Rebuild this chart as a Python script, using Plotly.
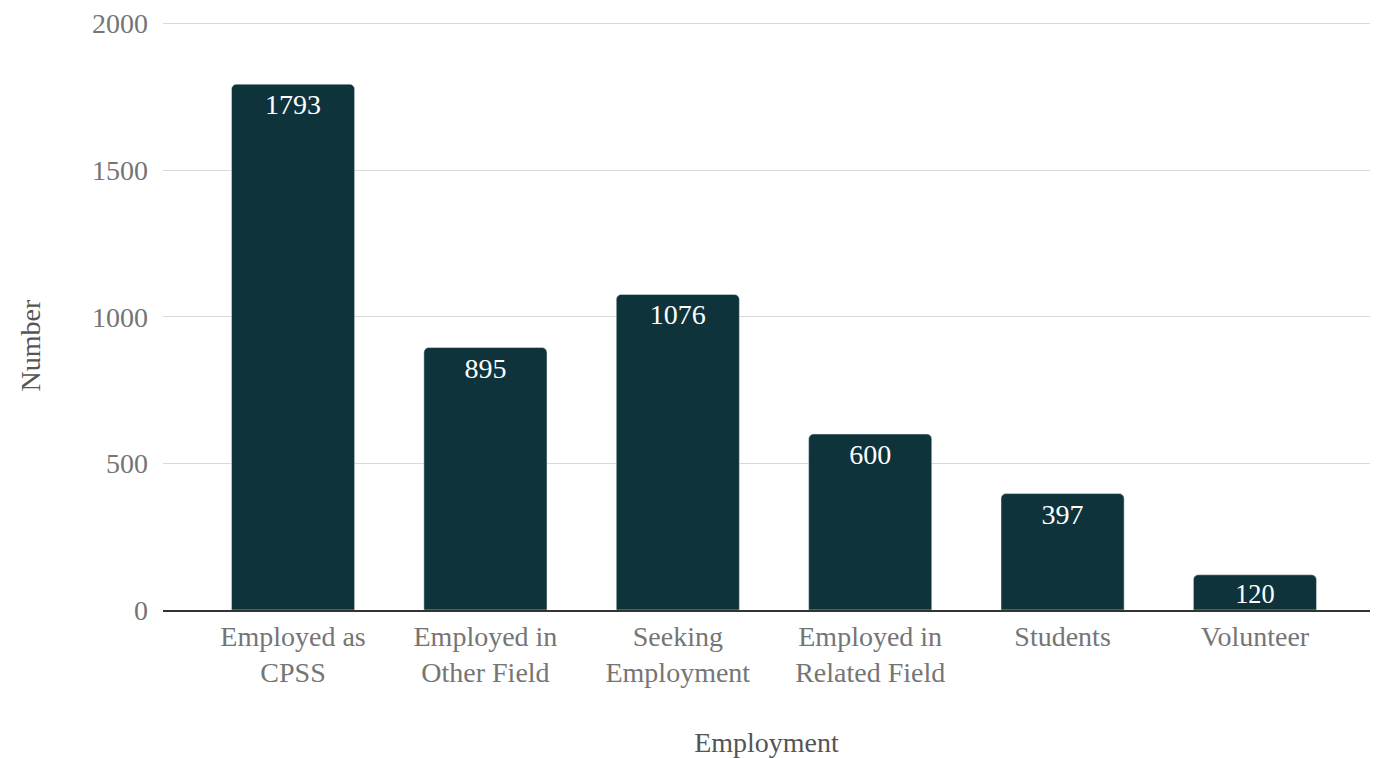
import plotly.graph_objects as go

categories = [
    "Employed as<br>CPSS",
    "Employed in<br>Other Field",
    "Seeking<br>Employment",
    "Employed in<br>Related Field",
    "Students",
    "Volunteer"
]

counts = [1793, 895, 1076, 600, 397, 120]

y_ticks = [0, 500, 1000, 1500, 2000]

FONT = "Liberation Serif"

fig = go.Figure(go.Bar(
    x=categories,
    y=counts,
    text=counts,
    textposition="inside",
    insidetextanchor="end",
    textangle=0,
    textfont={'family': FONT, 'size': 28, 'color': "white"},
    marker={'color': "#0f333b", 'cornerradius': 5},
    width=0.64
))

fig.update_layout(
    width=1389,
    height=758,
    margin={'l': 163, 'r': 19, 't': 22, 'b': 148},
    paper_bgcolor="white",
    plot_bgcolor="white",
    font={'family': FONT, 'size': 28, 'color': "#757575"},
    showlegend=False
)

fig.update_xaxes(
    range=[-0.676, 5.598],
    automargin=False,
    showgrid=False,
    showline=True,
    linecolor="#333333",
    linewidth=2,
    ticks="",
    tickfont={'family': FONT, 'size': 28, 'color': "#757575"},
    title={'text': "Employment", 'font': {'family': FONT, 'size': 28, 'color': "#555555"}, 'standoff': 45}
)

fig.update_yaxes(
    range=[0, 2005],
    automargin=False,
    tickvals=y_ticks,
    gridcolor="#d9d9d9",
    gridwidth=1,
    zeroline=False,
    ticks="",
    ticklabelstandoff=14,
    tickfont={'family': FONT, 'size': 28, 'color': "#757575"}
)

# y axis title sits a little below the plot centre in the original
fig.add_annotation(
    text="Number",
    xref="paper", yref="paper",
    x=0, y=0.45,
    xanchor="center",
    xshift=-133,
    textangle=-90,
    showarrow=False,
    font={'family': FONT, 'size': 28, 'color': "#555555"}
)

# drop the default body margin so the figure sits at the page corner
fig.write_html(
    "out.html",
    config={'displayModeBar': False},
    post_script="document.body.style.margin = '0';"
)
